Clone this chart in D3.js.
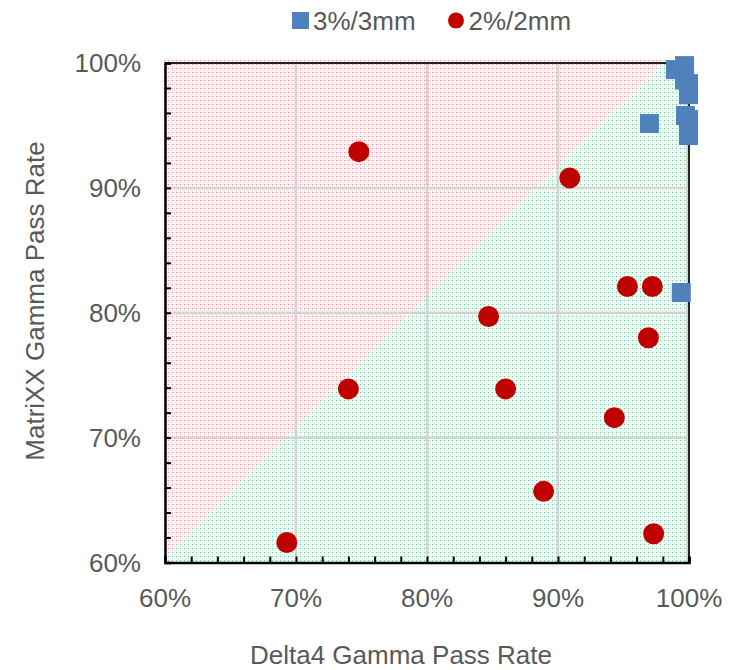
<!DOCTYPE html>
<html><head><meta charset="utf-8">
<script src="https://cdn.jsdelivr.net/npm/d3@7"></script>
<style>body{margin:0;background:#fff}svg{display:block}text{font-family:"Liberation Sans",Arial,sans-serif}</style>
</head><body>
<svg id="c" width="731" height="670"></svg>
<script>
// ---- data ----
const seriesNames = ["3%/3mm", "2%/2mm"];
const sq_x = [99.66, 98.97, 99.66, 99.96, 99.96, 99.73, 99.96, 99.96, 96.98, 99.41];
const sq_y = [99.79, 99.47, 98.63, 98.35, 97.47, 95.79, 95.47, 94.19, 95.15, 81.62];
const ci_x = [74.8, 90.9, 95.3, 97.2, 84.7, 96.9, 74.0, 86.0, 94.3, 88.9, 97.3, 69.3];
const ci_y = [92.9, 90.8, 82.1, 82.1, 79.7, 78.0, 73.9, 73.9, 71.6, 65.7, 62.3, 61.6];
const xTicks = [60, 70, 80, 90, 100];
const yTicks = [60, 70, 80, 90, 100];
const xTitle = "Delta4 Gamma Pass Rate";
const yTitle = "MatriXX Gamma Pass Rate";

const svg = d3.select("#c");
const x = d3.scaleLinear().domain([60, 100]).range([165, 689]);
const y = d3.scaleLinear().domain([60, 100]).range([562.5, 63]);
const grey = "#595959";

// patterns
const defs = svg.append("defs");
function pat(id, bg, line, dot, dot2) {
  const p = defs.append("pattern").attr("id", id).attr("patternUnits", "userSpaceOnUse")
    .attr("width", 4).attr("height", 4);
  p.append("rect").attr("width", 4).attr("height", 4).attr("fill", bg);
  p.append("rect").attr("width", 4).attr("height", 1).attr("fill", line);
  p.append("rect").attr("width", 1).attr("height", 4).attr("fill", line);
  p.append("rect").attr("width", 1).attr("height", 1).attr("fill", dot);
  p.append("rect").attr("x", 2).attr("y", 2).attr("width", 1).attr("height", 1).attr("fill", dot2);
}
pat("pinkP", "#ffffff", "#ffe6e9", "#ff8a97", "#ffd2d7");
pat("greenP", "#ffffff", "#e2f6eb", "#6fd19f", "#cdeedd");

const x0 = x(60) - 2, x1 = x(100), yT = y(100) - 3, yB = y(60);
const bx = x(98.2);
svg.append("polygon").attr("fill", "url(#pinkP)")
  .attr("points", [[x0, yB - 4], [x0, yT], [bx, yT]].map(p => p.join(",")).join(" "));
svg.append("polygon").attr("fill", "url(#greenP)")
  .attr("points", [[x0, yB], [x0, yB - 4], [bx, yT], [x1, yT], [x1, yB]].map(p => p.join(",")).join(" "));

// gridlines
const g = svg.append("g");
[70, 80, 90].forEach(v => {
  g.append("line").attr("x1", x(v)).attr("x2", x(v)).attr("y1", y(100)).attr("y2", y(60))
    .attr("stroke", "#d4d4d4").attr("stroke-width", 2.5);
  g.append("line").attr("y1", y(v)).attr("y2", y(v)).attr("x1", x(60)).attr("x2", x(100))
    .attr("stroke", "#d4d4d4").attr("stroke-width", 2.5);
});
g.append("line").attr("x1", x(100) - 2).attr("x2", x(100) - 2).attr("y1", y(100)).attr("y2", y(60))
  .attr("stroke", "#d4d4d4").attr("stroke-width", 2);

// frame (top, right)
svg.append("line").attr("x1", x(60)).attr("x2", x(100)).attr("y1", y(100)).attr("y2", y(100))
  .attr("stroke", "#222").attr("stroke-width", 2);
svg.append("line").attr("x1", x(100)).attr("x2", x(100)).attr("y1", y(100)).attr("y2", y(60))
  .attr("stroke", "#222").attr("stroke-width", 2);

// axes
const minor = d3.range(60, 100.01, 2);
const xAxis = svg.append("g").attr("transform", `translate(0,${y(60)})`)
  .call(d3.axisBottom(x).tickValues(minor).tickSize(-6).tickFormat(""));
const yAxis = svg.append("g").attr("transform", `translate(${x(60)},0)`)
  .call(d3.axisLeft(y).tickValues(minor).tickSize(-6).tickFormat(""));
[xAxis, yAxis].forEach(a => {
  a.select(".domain").attr("stroke", "#000").attr("stroke-width", 2.5);
  a.selectAll(".tick line").attr("stroke", "#000").attr("stroke-width", 2);
});

// tick labels
svg.append("g").selectAll("text").data(xTicks).join("text")
  .attr("x", d => x(d)).attr("y", 607).attr("text-anchor", "middle")
  .attr("font-size", 26).attr("fill", grey).text(d => d + "%");
svg.append("g").selectAll("text").data(yTicks).join("text")
  .attr("x", 141).attr("y", d => y(d) + 9).attr("text-anchor", "end")
  .attr("font-size", 26).attr("fill", grey).text(d => d + "%");

// titles
svg.append("text").attr("x", 401).attr("y", 664).attr("text-anchor", "middle")
  .attr("font-size", 26).attr("fill", grey).text(xTitle);
svg.append("text").attr("transform", "translate(44,301) rotate(-90)").attr("text-anchor", "middle")
  .attr("font-size", 26).attr("fill", grey).text(yTitle);

// markers
const blue = "#4f81bd", red = "#c00000";
const sqData = sq_x.map((v, i) => ({ x: v, y: sq_y[i] }));
const ciData = ci_x.map((v, i) => ({ x: v, y: ci_y[i] }));
svg.append("g").selectAll("circle").data(ciData).join("circle")
  .attr("cx", d => x(d.x)).attr("cy", d => y(d.y)).attr("r", 10.5).attr("fill", red);
svg.append("g").selectAll("rect").data(sqData).join("rect")
  .attr("x", d => x(d.x) - 9.5).attr("y", d => y(d.y) - 9.5).attr("width", 19).attr("height", 19)
  .attr("fill", blue);

// legend
const lg = svg.append("g");
lg.append("rect").attr("x", 292).attr("y", 12).attr("width", 17).attr("height", 17).attr("fill", blue);
lg.append("text").attr("x", 313).attr("y", 29.5).attr("font-size", 26).attr("fill", grey).text(seriesNames[0]);
lg.append("circle").attr("cx", 456).attr("cy", 20.5).attr("r", 8).attr("fill", red);
lg.append("text").attr("x", 468.5).attr("y", 29.5).attr("font-size", 26).attr("fill", grey).text(seriesNames[1]);
</script>
</body></html>
